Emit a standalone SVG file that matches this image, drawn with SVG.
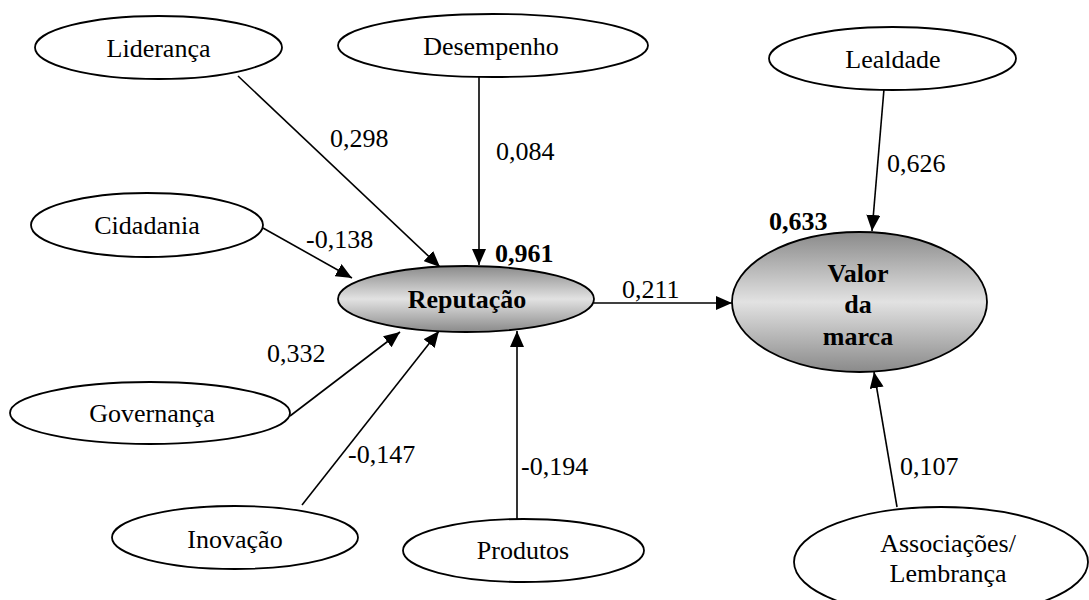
<svg xmlns="http://www.w3.org/2000/svg" width="1089" height="600" viewBox="0 0 1089 600">
  <style>
    .node { fill: #ffffff; stroke: #000000; stroke-width: 1.8; }
    .latent { stroke: #000000; stroke-width: 1.8; }
    .label { font-family: "Liberation Serif", "Times New Roman", serif; font-size: 26px; fill: #000000; text-anchor: middle; }
    .bold { font-weight: bold; }
    .coef { font-family: "Liberation Serif", "Times New Roman", serif; font-size: 26px; fill: #000000; }
    .edge { stroke: #000000; stroke-width: 1.6; fill: none; marker-end: url(#arrow); }
  </style>
  <defs>
    <marker id="arrow" markerUnits="userSpaceOnUse" markerWidth="16" markerHeight="14" refX="16" refY="7" orient="auto">
      <path d="M0,0 L16,7 L0,14 Z" fill="#000000"/>
    </marker>
    <linearGradient id="shade" x1="0" y1="0" x2="0" y2="1">
      <stop offset="0" stop-color="#8a8a8a"/>
      <stop offset="0.5" stop-color="#e2e2e2"/>
      <stop offset="1" stop-color="#8a8a8a"/>
    </linearGradient>
  </defs>

  <rect width="1089" height="600" fill="#ffffff"/>

  <!-- connectors -->
  <g id="connectors">
    <line class="edge" x1="238" y1="76" x2="440" y2="267"/>
    <line class="edge" x1="479" y1="77" x2="479" y2="265"/>
    <line class="edge" x1="263" y1="228" x2="352" y2="278"/>
    <line class="edge" x1="290" y1="416" x2="400" y2="332"/>
    <line class="edge" x1="302" y1="505" x2="439" y2="331"/>
    <line class="edge" x1="517" y1="519" x2="517" y2="331"/>
    <line class="edge" x1="594" y1="303" x2="732" y2="303"/>
    <line class="edge" x1="884" y1="89" x2="872" y2="231"/>
    <line class="edge" x1="897" y1="507" x2="874" y2="372"/>
  </g>

  <!-- path coefficients -->
  <g id="coefficients">
    <text class="coef" x="330" y="147">0,298</text>
    <text class="coef" x="496" y="160">0,084</text>
    <text class="coef" x="306" y="248">-0,138</text>
    <text class="coef bold" x="495" y="262">0,961</text>
    <text class="coef" x="622" y="298">0,211</text>
    <text class="coef bold" x="769" y="230">0,633</text>
    <text class="coef" x="887" y="172">0,626</text>
    <text class="coef" x="267" y="362">0,332</text>
    <text class="coef" x="348" y="463">-0,147</text>
    <text class="coef" x="521" y="475">-0,194</text>
    <text class="coef" x="900" y="475">0,107</text>
  </g>

  <g id="lideranca">
    <ellipse class="node" cx="158.5" cy="47.5" rx="123.5" ry="31.5"/>
    <text class="label" x="158.5" y="57">Liderança</text>
  </g>
  <g id="desempenho">
    <ellipse class="node" cx="493" cy="45.5" rx="155" ry="31.5"/>
    <text class="label" x="491" y="55">Desempenho</text>
  </g>
  <g id="lealdade">
    <ellipse class="node" cx="892.5" cy="58.5" rx="123.5" ry="31.5"/>
    <text class="label" x="893" y="68">Lealdade</text>
  </g>
  <g id="cidadania">
    <ellipse class="node" cx="147" cy="225" rx="116" ry="32"/>
    <text class="label" x="147" y="234">Cidadania</text>
  </g>
  <g id="governanca">
    <ellipse class="node" cx="150" cy="413" rx="140" ry="31"/>
    <text class="label" x="152" y="422">Governança</text>
  </g>
  <g id="inovacao">
    <ellipse class="node" cx="235" cy="537.5" rx="123" ry="31.5"/>
    <text class="label" x="235" y="548">Inovação</text>
  </g>
  <g id="produtos">
    <ellipse class="node" cx="523.5" cy="550.5" rx="120.5" ry="31.5"/>
    <text class="label" x="523" y="559">Produtos</text>
  </g>
  <g id="reputacao">
    <ellipse class="latent" cx="466" cy="299" rx="128" ry="33" fill="url(#shade)"/>
    <text class="label bold" x="467" y="308">Reputação</text>
  </g>
  <g id="valor-da-marca">
    <ellipse class="latent" cx="859.5" cy="302" rx="127.5" ry="70" fill="url(#shade)"/>
    <text class="label bold" x="858" y="282">Valor</text>
    <text class="label bold" x="858" y="313">da</text>
    <text class="label bold" x="858" y="345">marca</text>
  </g>
  <g id="associacoes">
    <ellipse class="node" cx="941" cy="562" rx="147" ry="55"/>
    <text class="label" x="948" y="552">Associações/</text>
    <text class="label" x="948" y="582">Lembrança</text>
  </g>
</svg>
